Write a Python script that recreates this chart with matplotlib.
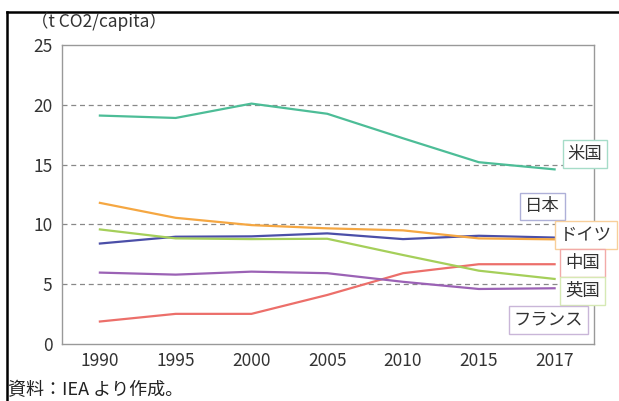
import matplotlib.pyplot as plt
from matplotlib.lines import Line2D

plt.rcParams['font.family'] = ['Noto Sans CJK JP', 'DejaVu Sans']

years = ["1990", "1995", "2000", "2005", "2010", "2015", "2017"]

usa = [19.1, 18.9, 20.1, 19.25, 17.2, 15.2, 14.6]
germany = [11.8, 10.55, 9.94, 9.67, 9.5, 8.83, 8.75]
japan = [8.4, 8.97, 9.0, 9.25, 8.77, 9.05, 8.9]
uk = [9.58, 8.83, 8.77, 8.8, 7.44, 6.13, 5.44]
france = [5.97, 5.8, 6.05, 5.92, 5.2, 4.6, 4.66]
china = [1.88, 2.52, 2.52, 4.1, 5.92, 6.67, 6.67]

names = ["米国", "日本", "ドイツ", "中国", "英国", "フランス"]
series = [usa, japan, germany, china, uk, france]
line_col = ["#4dbd97", "#4b4fa8", "#f5a742", "#ec6f6a", "#a5cf5a", "#9b62b5"]
box_col = ["#a6dcc8", "#aeb0d8", "#f8cf9a", "#f2aaa8", "#d6e9b4", "#c9b6d8"]
# label box centres (x index, y value)
label_pos = [(6.40, 15.86), (5.84, 11.5), (6.41, 9.1), (6.37, 6.77), (6.37, 4.44), (5.92, 2.02)]

fig = plt.figure(figsize=(6.19, 4.01), dpi=100)
ax = fig.add_axes([62/619, 1-344/401, (594-62)/619, (344-45)/401])

x = list(range(len(years)))
for s, c in zip(series, line_col):
    ax.plot(x, s, color=c, lw=1.6, zorder=3)

for v in [5, 10, 15, 20]:
    ax.axhline(v, color="#888888", lw=0.9, ls=(0, (4, 3)), zorder=1)

for n, (lx, ly), ec in zip(names, label_pos, box_col):
    ax.text(lx, ly, n, ha="center", va="center", fontsize=12.5, color="#333333", zorder=5,
            bbox=dict(boxstyle="square,pad=0.28", fc="white", ec=ec, lw=1.0))

ax.set_xlim(-0.5, 6.52)
ax.set_ylim(0, 25)
ax.set_xticks(x)
ax.set_xticklabels(years)
ax.set_yticks([0, 5, 10, 15, 20, 25])
ax.tick_params(axis="x", length=0, labelsize=12.5, labelcolor="#333333", pad=6)
ax.tick_params(axis="y", length=0, labelsize=12.5, labelcolor="#333333", pad=7)
for sp in ax.spines.values():
    sp.set_color("#999999")
    sp.set_linewidth(1.0)

fig.text(31/619, 1-22/401, "（t CO2/capita）", fontsize=12.5, color="#333333", va="center", ha="left")
fig.text(8/619, 2/401, "資料：IEA より作成。", fontsize=13, color="#222222", va="bottom", ha="left")

# outer frame (cut off at right and bottom)
fig.add_artist(Line2D([7/619, 7/619], [0, 1-12/401], color="black", lw=1.8, transform=fig.transFigure))
fig.add_artist(Line2D([7/619, 1], [1-12/401, 1-12/401], color="black", lw=1.8, transform=fig.transFigure))

fig.savefig("out.png", dpi=100)
